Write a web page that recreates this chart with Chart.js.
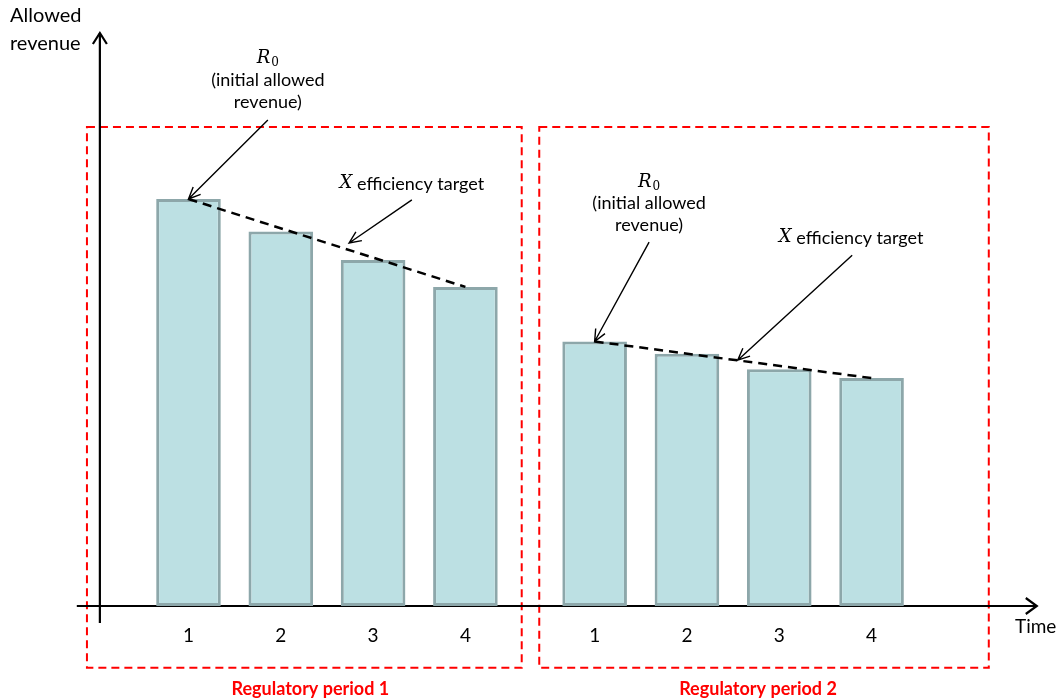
<!doctype html>
<html>
<head>
<script src="https://cdn.jsdelivr.net/npm/chart.js"></script>
<style>
  body { margin: 0; background: #fff; }
  #wrap { width: 1063px; height: 699px; }
</style>
<title>Allowed revenue</title>
</head>
<body>
<div id="wrap"><canvas id="drawhere"></canvas></div>
<script>
// data
const timeLabels = ['1', '2', '3', '4'];
const periodNames = ['Regulatory period 1', 'Regulatory period 2'];
const periodStart = [1, 5.4];            // time position of year 1 in each period
const period1Revenue = [100, 92, 85, 78.4];
const period2Revenue = [65, 62, 58.2, 56];
const revenues = [period1Revenue, period2Revenue];

var barpoints = [];
var trendsets = [];
for (var p = 0; p < 2; p++) {
  var pts = [];
  for (var i = 0; i < timeLabels.length; i++) {
    pts.push({x: periodStart[p] + i, y: revenues[p][i]});
    barpoints.push({x: periodStart[p] + i, y: revenues[p][i]});
  }
  trendsets.push({
    type: 'line',
    data: [pts[0], pts[pts.length - 1]],
    borderColor: '#000',
    borderWidth: 2.5,
    borderDash: [9, 6],
    pointRadius: 0,
    order: 0
  });
}

const sans = 'Lato, "Noto Sans", sans-serif';
const serif = '"DejaVu Serif", serif';

function arrow(ctx, x1, y1, x2, y2) {
  var a = Math.atan2(y2 - y1, x2 - x1);
  var len = 13, spread = 0.42;
  ctx.save();
  ctx.strokeStyle = '#000';
  ctx.lineWidth = 1.4;
  ctx.beginPath();
  ctx.moveTo(x1, y1);
  ctx.lineTo(x2, y2);
  ctx.moveTo(x2 - len * Math.cos(a - spread), y2 - len * Math.sin(a - spread));
  ctx.lineTo(x2, y2);
  ctx.lineTo(x2 - len * Math.cos(a + spread), y2 - len * Math.sin(a + spread));
  ctx.stroke();
  ctx.restore();
}

// italic math symbol (with optional subscript) followed by plain text, centred on cx
function mathText(ctx, sym, sub, rest, cx, cy) {
  ctx.save();
  ctx.textBaseline = 'middle';
  ctx.textAlign = 'left';
  var symFont = 'italic 18px ' + serif, subFont = '12px ' + serif, restFont = '18px ' + sans;
  ctx.font = symFont; var w1 = ctx.measureText(sym).width;
  ctx.font = subFont; var w2 = sub ? ctx.measureText(sub).width + 1 : 0;
  ctx.font = restFont; var w3 = rest ? ctx.measureText(rest).width : 0;
  var x = cx - (w1 + w2 + w3) / 2;
  ctx.fillStyle = '#000';
  ctx.font = symFont; ctx.fillText(sym, x, cy); x += w1;
  if (sub) { ctx.font = subFont; ctx.fillText(sub, x + 1, cy + 5); x += w2; }
  if (rest) { ctx.font = restFont; ctx.fillText(rest, x, cy + 1); }
  ctx.restore();
}

function centreText(ctx, t, cx, cy, font, color) {
  ctx.save();
  ctx.font = font;
  ctx.fillStyle = color || '#000';
  ctx.textAlign = 'center';
  ctx.textBaseline = 'middle';
  ctx.fillText(t, cx, cy);
  ctx.restore();
}

const diagram = {
  id: 'diagram',
  beforeDatasetsDraw(chart) {
    var ctx = chart.ctx, xs = chart.scales.x, ys = chart.scales.y;
    var X = v => xs.getPixelForValue(v), Y = v => ys.getPixelForValue(v);
    // period boxes
    var boxes = [[-0.1, 4.61], [4.8, 9.67]];
    ctx.save();
    ctx.strokeStyle = '#FF0000';
    ctx.lineWidth = 2;
    ctx.setLineDash([8, 5]);
    for (var b = 0; b < boxes.length; b++) {
      ctx.strokeRect(X(boxes[b][0]), Y(117.7), X(boxes[b][1]) - X(boxes[b][0]), Y(-15.2) - Y(117.7));
    }
    ctx.restore();
    // axes
    ctx.save();
    ctx.strokeStyle = '#000';
    ctx.lineWidth = 2.2;
    ctx.beginPath();
    ctx.moveTo(X(-0.21), Y(0)); ctx.lineTo(X(10.19), Y(0));
    ctx.moveTo(X(0.04), Y(-4.2)); ctx.lineTo(X(0.04), Y(140.8));
    ctx.stroke();
    ctx.beginPath();
    var ax = X(10.19), ay = Y(0);
    ctx.moveTo(ax - 11, ay - 8); ctx.lineTo(ax, ay); ctx.lineTo(ax - 11, ay + 8);
    var tx = X(0.04), ty = Y(140.8);
    ctx.moveTo(tx - 7, ty + 11); ctx.lineTo(tx, ty); ctx.lineTo(tx + 7, ty + 11);
    ctx.stroke();
    ctx.restore();
  },
  afterDatasetsDraw(chart) {
    var ctx = chart.ctx, xs = chart.scales.x, ys = chart.scales.y;
    var X = v => xs.getPixelForValue(v), Y = v => ys.getPixelForValue(v);
    // axis titles
    ctx.save();
    ctx.font = '20px ' + sans;
    ctx.fillStyle = '#000';
    ctx.textBaseline = 'middle';
    ctx.fillText('Allowed', 10, 16);
    ctx.fillText('revenue', 10, 44);
    ctx.font = '19px ' + sans;
    ctx.fillText('Time', 1015, 627);
    ctx.restore();
    for (var p = 0; p < 2; p++) {
      for (var i = 0; i < timeLabels.length; i++) {
        centreText(ctx, timeLabels[i], X(periodStart[p] + i), 636, '19px ' + sans);
      }
    }
    centreText(ctx, periodNames[0], X(2.32), 689, 'bold 18px ' + sans, '#FF0000');
    centreText(ctx, periodNames[1], X(7.17), 689, 'bold 18px ' + sans, '#FF0000');

    // period 1 annotations
    var t1x = X(1.86), t1y = Y(119.4);
    mathText(ctx, 'R', '0', '', t1x, t1y - 62);
    centreText(ctx, '(initial allowed', t1x, t1y - 40, '18px ' + sans);
    centreText(ctx, 'revenue)', t1x, t1y - 18, '18px ' + sans);
    arrow(ctx, t1x, t1y, X(periodStart[0]), Y(period1Revenue[0]));
    var e1x = X(3.42), e1y = Y(99.8);
    mathText(ctx, 'X', '', ' efficiency target', e1x, e1y - 17);
    arrow(ctx, e1x, e1y, X(2.74), Y(89.2));

    // period 2 annotations
    var t2x = X(5.99), t2y = Y(89.4);
    mathText(ctx, 'R', '0', '', t2x, t2y - 60);
    centreText(ctx, '(initial allowed', t2x, t2y - 39, '18px ' + sans);
    centreText(ctx, 'revenue)', t2x, t2y - 17, '18px ' + sans);
    arrow(ctx, t2x, t2y, X(periodStart[1]), Y(period2Revenue[0]));
    var e2x = X(8.19), e2y = Y(86.2);
    mathText(ctx, 'X', '', ' efficiency target', e2x - 1, e2y - 18);
    arrow(ctx, e2x, e2y, X(6.95), Y(60.4));
  }
};

var thechart = new Chart(document.getElementById('drawhere'), {
  data: {
    datasets: [
      {
        type: 'bar',
        data: barpoints,
        backgroundColor: '#BCE0E3',
        borderColor: '#8DA7AA',
        borderWidth: 3,
        borderSkipped: false,
        barPercentage: 0.7,
        categoryPercentage: 1,
        order: 1
      }
    ].concat(trendsets)
  },
  options: {
    responsive: true,
    maintainAspectRatio: false,
    animation: false,
    layout: { padding: 0 },
    plugins: { legend: { display: false }, tooltip: { enabled: false } },
    scales: {
      x: { type: 'linear', min: -1.042, max: 10.474, offset: false, display: false },
      y: { type: 'linear', min: -22.85, max: 148.9, display: false }
    }
  },
  plugins: [diagram]
});
</script>
</body>
</html>
